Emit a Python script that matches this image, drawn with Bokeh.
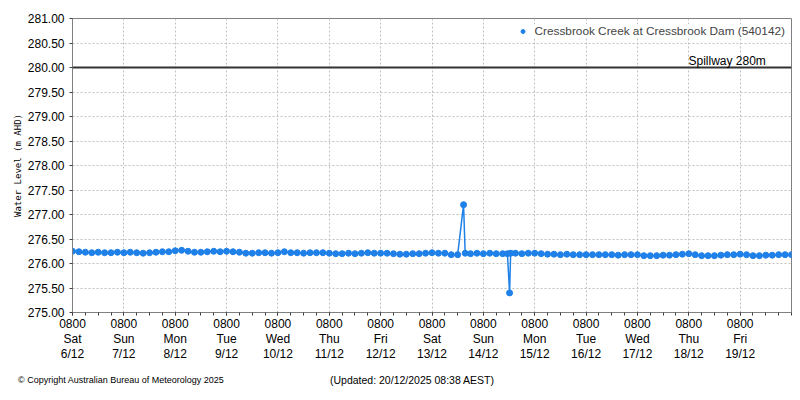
import pandas as pd
from bokeh.plotting import figure
from bokeh.layouts import column
from bokeh.models import (FixedTicker, NumeralTickFormatter, Span, Label, Legend, LegendItem,
                          ColumnDataSource, Div)
from bokeh.embed import file_html
from bokeh.resources import INLINE

# ---------------- data ----------------
series_name = "Cressbrook Creek at Cressbrook Dam (540142)"
spillway_level = 280.0
spillway_label = "Spillway 280m"

times = [
    "2025-12-06 08:00", "2025-12-06 11:00", "2025-12-06 14:00", "2025-12-06 17:00",
    "2025-12-06 20:00", "2025-12-06 23:00", "2025-12-07 02:00", "2025-12-07 05:00",
    "2025-12-07 08:00", "2025-12-07 11:00", "2025-12-07 14:00", "2025-12-07 17:00",
    "2025-12-07 20:00", "2025-12-07 23:00", "2025-12-08 02:00", "2025-12-08 05:00",
    "2025-12-08 08:00", "2025-12-08 11:00", "2025-12-08 14:00", "2025-12-08 17:00",
    "2025-12-08 20:00", "2025-12-08 23:00", "2025-12-09 02:00", "2025-12-09 05:00",
    "2025-12-09 08:00", "2025-12-09 11:00", "2025-12-09 14:00", "2025-12-09 17:00",
    "2025-12-09 20:00", "2025-12-09 23:00", "2025-12-10 02:00", "2025-12-10 05:00",
    "2025-12-10 08:00", "2025-12-10 11:00", "2025-12-10 14:00", "2025-12-10 17:00",
    "2025-12-10 20:00", "2025-12-10 23:00", "2025-12-11 02:00", "2025-12-11 05:00",
    "2025-12-11 08:00", "2025-12-11 11:00", "2025-12-11 14:00", "2025-12-11 17:00",
    "2025-12-11 20:00", "2025-12-11 23:00", "2025-12-12 02:00", "2025-12-12 05:00",
    "2025-12-12 08:00", "2025-12-12 11:00", "2025-12-12 14:00", "2025-12-12 17:00",
    "2025-12-12 20:00", "2025-12-12 23:00", "2025-12-13 02:00", "2025-12-13 05:00",
    "2025-12-13 08:00", "2025-12-13 11:00", "2025-12-13 14:00", "2025-12-13 17:00",
    "2025-12-13 20:00", "2025-12-13 22:45", "2025-12-13 23:30", "2025-12-14 02:00",
    "2025-12-14 05:00",
    "2025-12-14 08:00", "2025-12-14 11:00", "2025-12-14 14:00", "2025-12-14 17:00",
    "2025-12-14 19:15", "2025-12-14 20:15", "2025-12-14 20:45", "2025-12-14 23:00",
    "2025-12-15 02:00", "2025-12-15 05:00",
    "2025-12-15 08:00", "2025-12-15 11:00", "2025-12-15 14:00", "2025-12-15 17:00",
    "2025-12-15 20:00", "2025-12-15 23:00", "2025-12-16 02:00", "2025-12-16 05:00",
    "2025-12-16 08:00", "2025-12-16 11:00", "2025-12-16 14:00", "2025-12-16 17:00",
    "2025-12-16 20:00", "2025-12-16 23:00", "2025-12-17 02:00", "2025-12-17 05:00",
    "2025-12-17 08:00", "2025-12-17 11:00", "2025-12-17 14:00", "2025-12-17 17:00",
    "2025-12-17 20:00", "2025-12-17 23:00", "2025-12-18 02:00", "2025-12-18 05:00",
    "2025-12-18 08:00", "2025-12-18 11:00", "2025-12-18 14:00", "2025-12-18 17:00",
    "2025-12-18 20:00", "2025-12-18 23:00", "2025-12-19 02:00", "2025-12-19 05:00",
    "2025-12-19 08:00", "2025-12-19 11:00", "2025-12-19 14:00", "2025-12-19 17:00",
    "2025-12-19 20:00", "2025-12-19 23:00", "2025-12-20 02:00", "2025-12-20 05:00",
    "2025-12-20 08:00",
]
levels = [
    276.25, 276.24, 276.23, 276.22, 276.23, 276.22, 276.22, 276.23,
    276.22, 276.23, 276.22, 276.21, 276.22, 276.23, 276.24, 276.24,
    276.26, 276.27, 276.25, 276.23, 276.23, 276.24, 276.25, 276.24,
    276.25, 276.24, 276.23, 276.21, 276.21, 276.22, 276.22, 276.21,
    276.22, 276.24, 276.22, 276.22, 276.21, 276.22, 276.22, 276.22,
    276.21, 276.20, 276.20, 276.21, 276.20, 276.21, 276.22, 276.21,
    276.21, 276.21, 276.20, 276.19, 276.19, 276.20, 276.20, 276.21,
    276.22, 276.21, 276.21, 276.18, 276.18, 277.20, 276.21, 276.20,
    276.21,
    276.20, 276.21, 276.20, 276.20, 276.20, 275.40, 276.21, 276.21,
    276.20, 276.21,
    276.21, 276.20, 276.19, 276.19, 276.18, 276.19, 276.18, 276.18,
    276.18, 276.18, 276.18, 276.18, 276.18, 276.17, 276.18, 276.18,
    276.18, 276.16, 276.16, 276.16, 276.17, 276.17, 276.18, 276.19,
    276.20, 276.18, 276.16, 276.16, 276.16, 276.17, 276.18, 276.18,
    276.19, 276.18, 276.16, 276.16, 276.17, 276.17, 276.18, 276.18,
    276.18,
]

tick_days = ["2025-12-%02d 08:00" % d for d in range(6, 20)]
tick_weekdays = ["Sat", "Sun", "Mon", "Tue", "Wed", "Thu", "Fri",
                 "Sat", "Sun", "Mon", "Tue", "Wed", "Thu", "Fri"]
tick_dates = ["%d/12" % d for d in range(6, 20)]
x_start = "2025-12-06 08:00"
x_end = "2025-12-20 08:00"
y_ticks = [275.0, 275.5, 276.0, 276.5, 277.0, 277.5, 278.0, 278.5, 279.0, 279.5, 280.0, 280.5, 281.0]

footer_left = "\u00a9 Copyright Australian Bureau of Meteorology 2025"
footer_right = "(Updated: 20/12/2025 08:38 AEST)"

# ---------------- helpers ----------------
def ms(s):
    return pd.Timestamp(s).value / 1e6

xs = [ms(t) for t in times]
major = [ms(t) for t in tick_days]
x0, x1 = ms(x_start), ms(x_end)
minor = [x0 + i * 6 * 3600e3 for i in range(int((x1 - x0) / (6 * 3600e3)) + 1)]

FONT = "Liberation Sans"
BLUE = "#1f80e8"

p = figure(width=792, height=368, output_backend="svg", toolbar_location=None,
           x_range=(x0, x1), y_range=(275.0, 281.0),
           min_border_left=72, min_border_right=1, min_border_top=18, min_border_bottom=56)

p.outline_line_color = "#808080"
p.background_fill_color = "white"
p.border_fill_color = "white"

# grid
for g in (p.xgrid, p.ygrid):
    g.grid_line_color = "#c0c0c0"
    g.grid_line_dash = "2 2"
    g.grid_line_width = 1

# axes
p.xaxis.ticker = FixedTicker(ticks=major, minor_ticks=minor)
p.xaxis.major_label_overrides = {
    m: "0800\n%s\n%s" % (w, d) for m, w, d in zip(major, tick_weekdays, tick_dates)
}
p.yaxis.ticker = FixedTicker(ticks=y_ticks)
p.yaxis.formatter = NumeralTickFormatter(format="0.00")

for ax in (p.xaxis[0], p.yaxis[0]):
    ax.axis_line_color = "#808080"
    ax.major_tick_line_color = "#404040"
    ax.minor_tick_line_color = "#404040"
    ax.major_tick_in = 0
    ax.major_tick_out = 3
    ax.minor_tick_in = 0
    ax.minor_tick_out = 3
    ax.major_label_text_font = FONT
    ax.major_label_text_font_size = "12px"
    ax.major_label_text_color = "black"

p.xaxis.major_label_standoff = 1
p.xaxis.major_label_text_line_height = 1.1
p.yaxis.major_label_standoff = 5
p.yaxis.minor_tick_line_color = None

p.yaxis.axis_label = "Water Level (m AHD)"
p.yaxis.axis_label_text_font = "DejaVu Sans Mono"
p.yaxis.axis_label_text_font_size = "9px"
p.yaxis.axis_label_text_font_style = "normal"
p.yaxis.axis_label_text_color = "black"
p.yaxis.axis_label_standoff = 2

# spillway
p.add_layout(Span(location=spillway_level, dimension="width", line_color="#333333", line_width=2))
p.add_layout(Label(x=x1 - 12 * 3600e3, y=spillway_level, text=spillway_label,
                   text_align="right", text_baseline="bottom", y_offset=0,
                   text_font=FONT, text_font_size="12px", text_color="black"))

# data
src = ColumnDataSource(dict(x=xs, y=levels))
p.line("x", "y", source=src, line_color=BLUE, line_width=1.5)
r = p.scatter("x", "y", source=src, size=6, fill_color=BLUE, line_color=BLUE)

legend = Legend(items=[LegendItem(label=series_name, renderers=[r])], location="top_right")
legend.border_line_color = None
legend.background_fill_color = "white"
legend.background_fill_alpha = 1.0
legend.label_text_font = FONT
legend.label_text_font_size = "11.8px"
legend.glyph_width = 10
legend.glyph_height = 12
legend.label_standoff = 7
legend.margin = 6
legend.padding = 4
p.add_layout(legend)

# footer
footer = Div(
    text=('<div style="position:relative;width:792px;height:24px;'
          'font-family:\'Liberation Sans\';color:black;">'
          '<span style="position:absolute;left:18px;top:6px;font-size:9px;white-space:nowrap;">%s</span>'
          '<span style="position:absolute;left:330px;top:5px;font-size:10.5px;white-space:nowrap;">%s</span>'
          '</div>') % (footer_left, footer_right),
    width=792, height=24, margin=0)

layout = column(p, footer, spacing=0)

open("out.html", "w").write(file_html(layout, INLINE))
